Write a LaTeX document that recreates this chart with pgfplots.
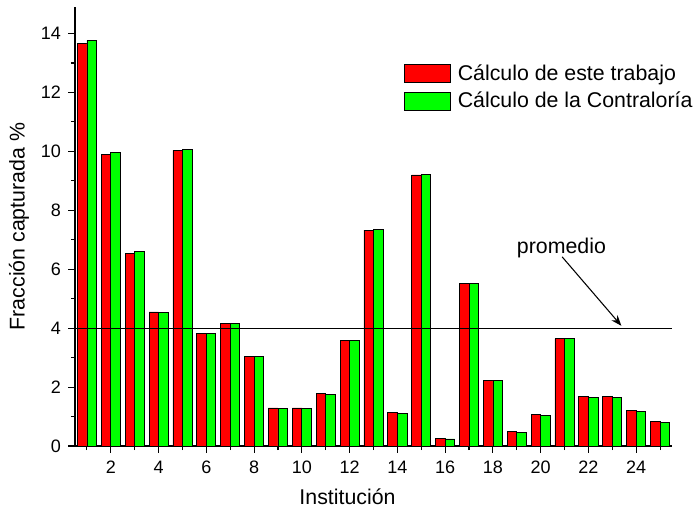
\documentclass[border=0pt]{standalone}
\usepackage{pgfplots}
\pgfplotsset{compat=1.18}
\usetikzlibrary{arrows.meta}
\usepackage{fontspec}
\setmainfont{Liberation Sans}
\begin{document}
\pgfplotstableread{
x red green
1 13.67 13.77
2 9.89 9.96
3 6.55 6.59
4 4.55 4.53
5 10.03 10.08
6 3.81 3.81
7 4.17 4.16
8 3.05 3.04
9 1.29 1.26
10 1.29 1.27
11 1.79 1.75
12 3.59 3.58
13 7.33 7.35
14 1.14 1.12
15 9.20 9.22
16 0.25 0.24
17 5.51 5.52
18 2.24 2.22
19 0.49 0.47
20 1.07 1.05
21 3.64 3.64
22 1.69 1.66
23 1.68 1.65
24 1.21 1.18
25 0.82 0.79
}\datatable
\begin{tikzpicture}
\begin{axis}[
  scale only axis,
  width=447.75pt, height=329.25pt,
  xmin=0.5, xmax=25.5, ymin=0, ymax=14.9,
  axis x line*=bottom, axis y line*=left,
  axis line style={line width=0.9pt, -},
  tick align=outside,
  tick style={black, line width=0.8pt},
  major tick length=5pt, minor tick length=3pt,
  xtick={2,4,...,24}, minor xtick={1,3,...,25},
  ytick={0,2,...,14}, minor ytick={1,3,...,13},
  /pgf/number format/assume math mode=true,
  ticklabel style={font=\fontsize{13.5}{15}\selectfont},
  xticklabel style={yshift=-2.5pt},
  yticklabel style={xshift=-2pt},
  label style={font=\fontsize{16}{18}\selectfont},
  xlabel={Institución}, ylabel={Fracción capturada \%},
  xlabel style={xshift=-19.5pt, yshift=-4.5pt},
  ylabel style={yshift=2pt},
  legend style={draw=none, fill=none, at={(axis cs:14.25,13.0)}, anchor=north west,
    font=\fontsize{16}{18}\selectfont, row sep=5.5pt, inner sep=0pt,
    nodes={inner xsep=5pt, inner ysep=1pt}},
  legend cell align=left,
  legend image code/.code={\draw[#1] (0pt,-6.75pt) rectangle (35pt,6.75pt);},
  clip=false,
]
\addplot[ybar, bar width=0.4, bar shift=-0.2, fill={rgb,255:red,255;green,0;blue,0}, draw=black, line width=0.6pt] table[x=x,y=red]{\datatable};
\addlegendentry{Cálculo de este trabajo}
\addplot[ybar, bar width=0.4, bar shift=0.2, fill={rgb,255:red,0;green,255;blue,0}, draw=black, line width=0.6pt] table[x=x,y=green]{\datatable};
\addlegendentry{Cálculo de la Contraloría}
\addplot[black, line width=0.9pt, forget plot] coordinates {(0.5,4) (25.5,4)};
\draw[-{Stealth[length=8pt,width=6pt]}, line width=0.8pt] (axis cs:20.9,6.42) -- (axis cs:23.38,4.08);
\node[font=\fontsize{16}{18}\selectfont] at (axis cs:20.87,6.72) {promedio};
\coordinate (SW) at (rel axis cs:0,0);
\end{axis}
\pgfresetboundingbox
\path (SW) ++(-56.25pt,-48pt) rectangle ++(522pt,382.5pt);
\end{tikzpicture}
\end{document}
